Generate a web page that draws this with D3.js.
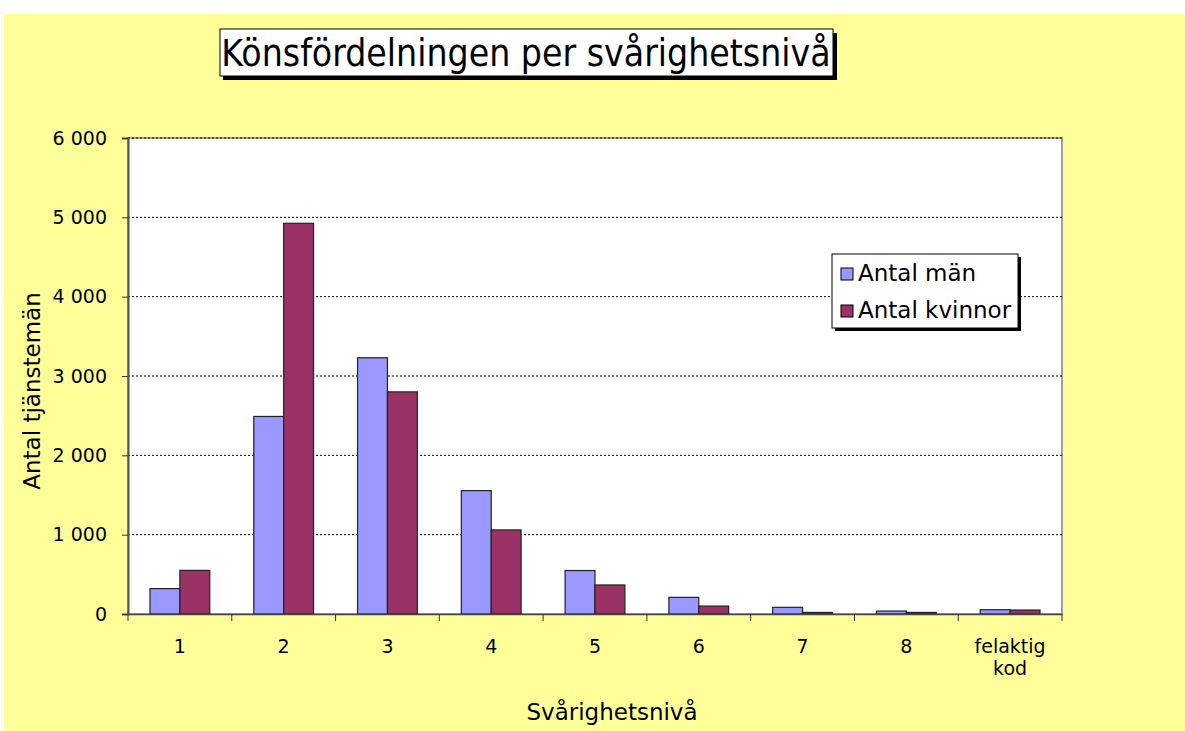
<!DOCTYPE html>
<html>
<head>
<meta charset="utf-8">
<script src="https://cdn.jsdelivr.net/npm/d3@7"></script>
<style>
  body { margin: 0; background: #fff; }
  svg { display: block; font-family: "DejaVu Sans", Verdana, sans-serif; }
</style>
</head>
<body>
<div id="chart"></div>
<script>
// Data
const categories = ["1", "2", "3", "4", "5", "6", "7", "8", "felaktig kod"];
const men = [320, 2490, 3230, 1555, 548, 210, 84, 37, 54];
const women = [550, 4925, 2800, 1060, 366, 100, 20, 20, 50];
const seriesNames = ["Antal män", "Antal kvinnor"];
const yTicks = [0, 1000, 2000, 3000, 4000, 5000, 6000];

const W = 1185, H = 731;
const margin = { top: 138, right: 123, bottom: 117, left: 128 };
const plotW = W - margin.left - margin.right;
const plotH = H - margin.top - margin.bottom;

const svg = d3.select("#chart").append("svg")
    .attr("width", W)
    .attr("height", H);

// Yellow chart area
svg.append("rect")
    .attr("x", 4).attr("y", 14)
    .attr("width", W - 4).attr("height", H - 14)
    .attr("fill", "#ffff99");

const g = svg.append("g")
    .attr("transform", `translate(${margin.left},${margin.top})`);

// Plot area
g.append("rect")
    .attr("width", plotW).attr("height", plotH)
    .attr("fill", "#fff")
    .attr("stroke", "#a0a0a0")
    .attr("stroke-width", 2);

const x = d3.scaleBand().domain(categories).range([0, plotW]).paddingInner(0).paddingOuter(0);
const xs = d3.scaleBand().domain([0, 1]).range([22, x.bandwidth() - 22]);
const y = d3.scaleLinear().domain([0, 6000]).range([plotH, 0]);

// Gridlines
g.selectAll(".grid").data(yTicks.filter(d => d > 0)).enter()
    .append("line")
    .attr("x1", 0).attr("x2", plotW)
    .attr("y1", d => y(d)).attr("y2", d => y(d))
    .attr("stroke", "#000")
    .attr("stroke-width", 1)
    .attr("stroke-dasharray", "2,2");

// Bars
const series = [men, women];
const colors = ["#9999ff", "#993366"];
series.forEach((vals, si) => {
    g.selectAll(".bar" + si).data(vals).enter()
        .append("rect")
        .attr("x", (d, i) => x(categories[i]) + xs(si))
        .attr("y", d => y(d))
        .attr("width", xs.bandwidth())
        .attr("height", d => plotH - y(d))
        .attr("fill", colors[si])
        .attr("stroke", "#222")
        .attr("stroke-width", 1.2);
});

// Y axis
const yAxis = g.append("g")
    .call(d3.axisLeft(y).tickValues(yTicks).tickSize(6).tickPadding(15)
        .tickFormat(d => d3.format(",")(d).replace(/,/g, " ")));
yAxis.attr("font-size", 19).attr("font-family", "DejaVu Sans, Verdana, sans-serif");
yAxis.select(".domain").attr("stroke", "#555").attr("stroke-width", 2);
yAxis.selectAll(".tick line").attr("stroke", "#333");
yAxis.selectAll("text").attr("fill", "#000");

// X axis
const xAxis = g.append("g")
    .attr("transform", `translate(0,${plotH})`)
    .call(d3.axisBottom(x).tickSize(0).tickFormat(""));
xAxis.select(".domain").attr("stroke", "#444").attr("stroke-width", 1.5);
xAxis.selectAll(".tick").remove();

g.selectAll(".xtick").data(d3.range(categories.length + 1)).enter()
    .append("line")
    .attr("x1", i => i * x.step()).attr("x2", i => i * x.step())
    .attr("y1", plotH).attr("y2", plotH + 7)
    .attr("stroke", "#333");

g.selectAll(".xlab").data(categories).enter()
    .append("text")
    .attr("text-anchor", "middle")
    .attr("font-size", 19)
    .attr("fill", "#000")
    .each(function(d) {
        const parts = d.split(" ");
        const t = d3.select(this);
        parts.forEach((p, k) => {
            t.append("tspan")
                .attr("x", x(d) + x.bandwidth() / 2)
                .attr("y", plotH + 39 + k * 22)
                .text(p);
        });
    });

// Axis titles
svg.append("text")
    .attr("x", 612)
    .attr("y", 720)
    .attr("text-anchor", "middle")
    .attr("font-size", 23)
    .text("Svårighetsnivå");

svg.append("text")
    .attr("transform", `translate(40,391) rotate(-90)`)
    .attr("text-anchor", "middle")
    .attr("font-size", 23)
    .text("Antal tjänstemän");

// Title box with shadow
const title = svg.append("g");
title.append("rect").attr("x", 223).attr("y", 33).attr("width", 614).attr("height", 47).attr("fill", "#000");
title.append("rect").attr("x", 220).attr("y", 29).attr("width", 613).attr("height", 47)
    .attr("fill", "#fff").attr("stroke", "#000").attr("stroke-width", 1);
title.append("text")
    .attr("x", 526).attr("y", 66)
    .attr("text-anchor", "middle")
    .attr("font-family", "DejaVu Sans Condensed, DejaVu Sans, sans-serif")
    .attr("font-stretch", "condensed")
    .attr("font-size", 37)
    .text("Könsfördelningen per svårighetsnivå");

// Legend with shadow
const lg = svg.append("g");
lg.append("rect").attr("x", 835).attr("y", 257).attr("width", 186).attr("height", 74).attr("fill", "#000");
lg.append("rect").attr("x", 832).attr("y", 254).attr("width", 186).attr("height", 74)
    .attr("fill", "#fff").attr("stroke", "#000").attr("stroke-width", 1);
seriesNames.forEach((name, i) => {
    lg.append("rect")
        .attr("x", 841).attr("y", 268 + i * 37)
        .attr("width", 12).attr("height", 12)
        .attr("fill", colors[i]).attr("stroke", "#000");
    lg.append("text")
        .attr("x", 858).attr("y", 281 + i * 37)
        .attr("font-size", 23)
        .text(name);
});
</script>
</body>
</html>
